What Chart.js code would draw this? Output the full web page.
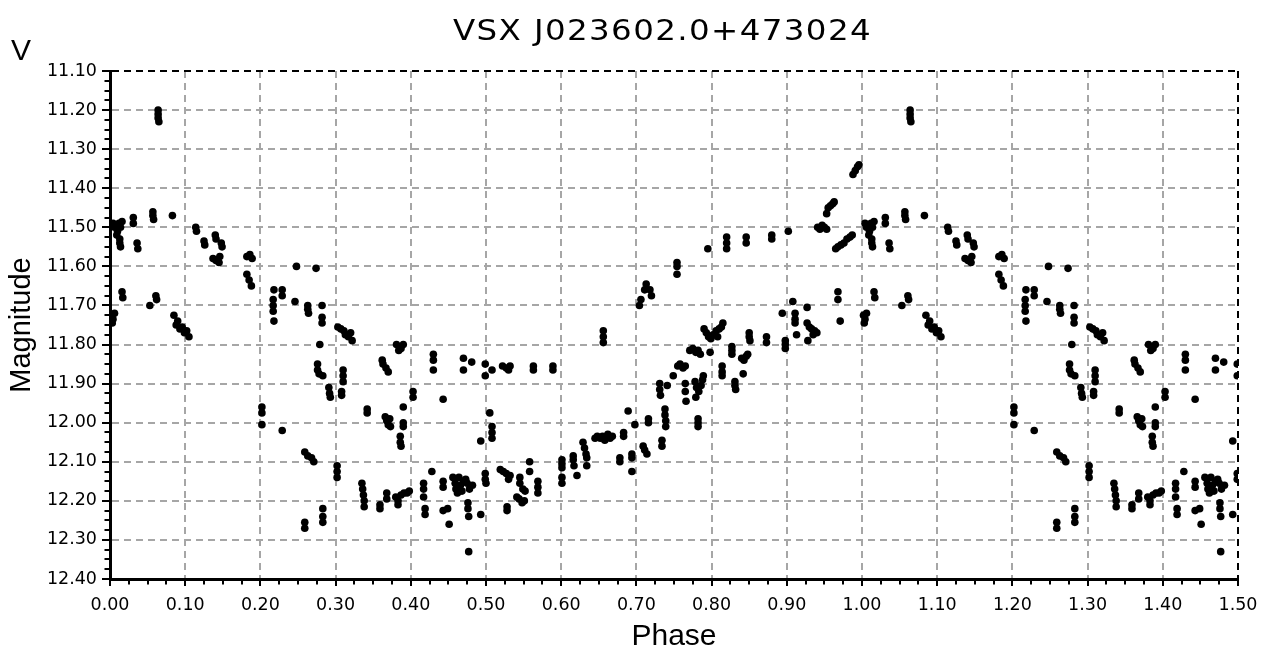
<!DOCTYPE html>
<html>
<head>
<meta charset="utf-8">
<title>VSX J023602.0+473024</title>
<script src="https://cdn.jsdelivr.net/npm/chart.js@4.4.1/dist/chart.umd.min.js"></script>
<style>
  html, body { margin: 0; padding: 0; background: #fff; }
</style>
</head>
<body>
<canvas id="lc" width="1268" height="655"></canvas>
<script>
// V-band phase plot, one row per 0.1 of phase
const PHASE = [
  0.002,0.004,0.006,0.003, 0.004,0.006,0.008,0.010,0.012,0.014,0.016,0.009,0.013, 0.013,0.014, 0.016,0.017, 0.031,0.031, 0.036,0.037, 0.053, 0.057,0.057,0.058, 0.061,0.062, 0.064,0.064,0.064,0.065, 0.083, 0.085,0.088,0.090,0.093,0.096,0.099,
  0.102,0.105, 0.114,0.115, 0.125,0.126, 0.140,0.141, 0.148,0.149, 0.137,0.141,0.145,0.146, 0.182,0.186,0.189, 0.182,0.185,0.188,
  0.202,0.202,0.202, 0.218,0.229,0.229, 0.217,0.217,0.217, 0.218, 0.229, 0.248, 0.274, 0.246, 0.263,0.263,0.264, 0.282, 0.282,0.282, 0.279, 0.276,0.276,0.278, 0.283, 0.291,0.292,0.293, 0.259,0.263,0.268,0.271, 0.259,0.259, 0.283,0.283,0.283,
  0.303,0.307,0.311,0.313,0.317,0.320,0.322, 0.310,0.310,0.310, 0.308,0.308, 0.302,0.302,0.302, 0.342,0.342, 0.335,0.336,0.337,0.338,0.338, 0.359,0.359, 0.368,0.368, 0.362,0.363,0.367,0.370, 0.381,0.384,0.387,0.390, 0.366,0.368,0.372,0.373,0.370, 0.390, 0.390,0.390, 0.386,0.386,0.387, 0.380,0.383,0.387,0.391,0.395,0.398,0.383,
  0.403,0.403, 0.430,0.430,0.430, 0.443, 0.417,0.417,0.417, 0.419,0.419, 0.428, 0.443,0.443, 0.443,0.449, 0.451, 0.456,0.459,0.460,0.464,0.466,0.470,0.473,0.475,0.478,0.482,0.468,0.462, 0.476,0.476,0.477, 0.477, 0.470,0.470, 0.481, 0.499,0.499, 0.493, 0.499,0.499,0.500, 0.493,
  0.508, 0.522,0.527,0.530,0.532, 0.563,0.563, 0.589,0.589, 0.505, 0.508,0.508,0.508, 0.519,0.523,0.527,0.530,0.532, 0.528,0.528, 0.545,0.545, 0.541,0.544,0.548,0.551, 0.549,0.552, 0.558,0.558, 0.569,0.569,0.569,
  0.601,0.601,0.601, 0.601,0.601, 0.616,0.616,0.617, 0.621, 0.629,0.631,0.633,0.634, 0.634, 0.645,0.648,0.652,0.655,0.658,0.662,0.665,0.668, 0.656,0.656,0.656, 0.678,0.678, 0.683,0.683, 0.689, 0.694,0.694, 0.694, 0.698,
  0.704,0.706,0.711,0.713,0.718,0.720, 0.709,0.711,0.714, 0.716,0.716, 0.731,0.731,0.732, 0.734,0.734, 0.741, 0.738,0.738,0.739,0.739, 0.749, 0.755, 0.754,0.754,0.754, 0.758,0.762,0.765, 0.765,0.765,0.766, 0.771,0.775,0.779,0.782,0.785, 0.778,0.780,0.783,0.786,0.788,0.789,0.779, 0.782,0.782,0.782, 0.790,0.793,0.796,0.799, 0.798, 0.795,
  0.802,0.806,0.810,0.813,0.815,0.808, 0.814,0.814,0.814, 0.820,0.820,0.820, 0.827,0.827,0.827, 0.831,0.831,0.832, 0.840,0.843,0.846,0.848, 0.842, 0.846,0.846, 0.850,0.850,0.851, 0.873,0.873, 0.880,0.880, 0.898,0.898,0.898, 0.894,
  0.902, 0.908, 0.911,0.911,0.911, 0.913, 0.927, 0.927,0.930,0.933,0.937,0.940,0.935, 0.928, 0.941,0.944,0.947,0.950,0.953, 0.953,0.955,0.958,0.961,0.963, 0.968,0.968, 0.971, 0.965,0.968,0.972,0.976,0.980,0.984,0.987, 0.988,0.991,0.994,0.996
];

const MAG = [
  11.725,11.735,11.72,11.745, 11.49,11.50,11.495,11.51,11.49,11.50,11.485,11.52,11.53, 11.54,11.55, 11.665,11.68, 11.475,11.49, 11.54,11.555, 11.70, 11.46,11.47,11.48, 11.675,11.685, 11.20,11.21,11.22,11.23, 11.47, 11.725,11.75,11.74,11.76,11.755,11.77,
  11.765,11.78, 11.50,11.51, 11.535,11.545, 11.52,11.53, 11.54,11.55, 11.58,11.585,11.59,11.575, 11.575,11.57,11.58, 11.62,11.635,11.65,
  11.96,11.975,12.005, 11.66,11.66,11.675, 11.685,11.70,11.715, 11.74, 12.02, 11.60, 11.605, 11.69, 11.70,11.71,11.72, 11.70, 11.73,11.745, 11.80, 11.85,11.865,11.875, 11.88, 11.91,11.925,11.935, 12.075,12.085,12.09,12.10, 12.255,12.27, 12.22,12.24,12.255,
  11.755,11.76,11.765,11.775,11.78,11.77,11.79, 11.865,11.88,11.895, 11.92,11.93, 12.11,12.125,12.14, 11.965,11.975, 12.155,12.17,12.185,12.20,12.215, 12.21,12.22, 12.18,12.195, 11.84,11.85,11.86,11.87, 11.80,11.815,11.81,11.80, 11.985,11.995,11.99,12.01,12.005, 11.96, 12.00,12.01, 12.035,12.05,12.06, 12.19,12.20,12.185,12.18,12.18,12.175,12.21,
  11.92,11.935, 11.825,11.84,11.865, 11.94, 12.155,12.17,12.19, 12.22,12.235, 12.125, 12.15,12.165, 12.225,12.22, 12.26, 12.14,12.155,12.17,12.14,12.16,12.15,12.145,12.155,12.17,12.16,12.175,12.18, 12.205,12.22,12.24, 12.33, 11.835,11.865, 11.845, 11.85,11.88, 12.047, 12.13,12.145,12.155, 12.235,
  11.865, 11.855,11.86,11.865,11.855, 11.855,11.865, 11.855,11.865, 11.975, 12.01,12.025,12.04, 12.12,12.125,12.13,12.145,12.135, 12.215,12.225, 12.14,12.155, 12.19,12.195,12.205,12.20, 12.17,12.175, 12.10,12.125, 12.15,12.165,12.18,
  12.095,12.105,12.115, 12.14,12.155, 12.085,12.095,12.11, 12.135, 12.05,12.065,12.08,12.09, 12.11, 12.04,12.035,12.04,12.035,12.045,12.03,12.04,12.035, 11.765,11.78,11.795, 12.09,12.10, 12.025,12.035, 11.97, 12.08,12.09, 12.125, 12.005,
  11.70,11.685,11.66,11.645,11.66,11.675, 12.06,12.07,12.08, 11.99,12.00, 11.90,11.915,11.93, 12.045,12.06, 11.905, 11.965,11.98,11.995,12.01, 11.88, 11.855, 11.59,11.60,11.62, 11.85,11.86,11.855, 11.90,11.92,11.945, 11.815,11.81,11.82,11.815,11.825, 11.895,11.91,11.92,11.905,11.89,11.88,11.935, 11.99,12.00,12.01, 11.76,11.77,11.78,11.785, 11.82, 11.555,
  11.775,11.765,11.76,11.755,11.745,11.78, 11.855,11.87,11.88, 11.525,11.54,11.555, 11.805,11.815,11.825, 11.895,11.905,11.915, 11.835,11.84,11.83,11.825, 11.875, 11.525,11.54, 11.77,11.78,11.79, 11.78,11.795, 11.52,11.53, 11.79,11.80,11.81, 11.72,
  11.51, 11.69, 11.72,11.735,11.745, 11.775, 11.705, 11.745,11.755,11.76,11.765,11.77,11.775, 11.79, 11.50,11.505,11.495,11.50,11.505, 11.465,11.45,11.445,11.44,11.435, 11.665,11.685, 11.74, 11.555,11.55,11.545,11.54,11.53,11.525,11.52, 11.365,11.355,11.345,11.34
];

const STAR = 'VSX J023602.0+473024';
const PHASE_RANGE = [0, 1.5];
const MAG_RANGE = [11.1, 12.4];

const isMajor = v => Math.abs(v * 10 - Math.round(v * 10)) < 1e-6;
const GRID = '#a6a6a6';

const points = PHASE.map((p, i) => ({ x: p, y: MAG[i] }));
// plot 1.5 cycles: first half of the cycle again at phase + 1
const secondCycle = points.filter(p => p.x < 0.5).map(p => ({ x: p.x + 1, y: p.y }));

const headings = {
  id: 'headings',
  afterDraw(chart) {
    const ctx = chart.ctx;
    ctx.save();
    ctx.fillStyle = '#000';
    ctx.textBaseline = 'alphabetic';
    ctx.textAlign = 'left';
    ctx.font = '30px "Liberation Sans", Arial, sans-serif';
    ctx.fillText('V', 11, 60);
    // wide, slightly stretched star name
    ctx.font = '28px "DejaVu Sans", sans-serif';
    ctx.letterSpacing = '1.2px';
    ctx.translate(453, 40);
    ctx.scale(1.16, 1);
    ctx.fillText(STAR, 0, 0);
    ctx.restore();
  }
};

const tickFont = { family: '"DejaVu Sans", sans-serif', size: 17.5 };
const titleFont = (size) => ({ family: '"Liberation Sans", Arial, sans-serif', size });

new Chart(document.getElementById('lc'), {
  type: 'scatter',
  data: {
    datasets: [{
      label: 'V',
      data: points.concat(secondCycle),
      backgroundColor: '#000',
      borderWidth: 0,
      pointRadius: 3.8,
      pointHoverRadius: 3.8
    }]
  },
  options: {
    responsive: false,
    animation: false,
    events: [],
    layout: { padding: { top: 71, right: 30, bottom: 0, left: 0 } },
    plugins: { legend: { display: false }, tooltip: { enabled: false } },
    scales: {
      x: {
        type: 'linear',
        min: PHASE_RANGE[0], max: PHASE_RANGE[1],
        afterFit: s => { s.height = 76; },
        ticks: {
          stepSize: 0.025, autoSkip: false, maxRotation: 0, minRotation: 0,
          padding: 9, color: '#000', font: tickFont,
          callback: v => isMajor(v) ? v.toFixed(2) : ''
        },
        grid: {
          color: c => Math.abs(c.tick.value - PHASE_RANGE[1]) < 1e-6 ? '#000' : GRID,
          lineWidth: c => isMajor(c.tick.value) ? 2 : 0,
          tickLength: 7, tickColor: '#000', tickWidth: 2,
          tickBorderDash: c => isMajor(c.tick.value) ? [] : [3.5, 20]
        },
        border: { display: true, color: '#000', width: 3, dash: [7, 5] },
        title: { display: true, text: 'Phase', color: '#000', font: titleFont(30), padding: { top: 0, bottom: 0 } }
      },
      y: {
        type: 'linear',
        reverse: true,
        min: MAG_RANGE[0], max: MAG_RANGE[1],
        afterFit: s => { s.width = 110; },
        ticks: {
          stepSize: 0.025, autoSkip: false,
          padding: 5, color: '#000', font: tickFont,
          callback: v => isMajor(v) ? v.toFixed(2) : ''
        },
        grid: {
          color: c => Math.abs(c.tick.value - MAG_RANGE[0]) < 1e-6 ? '#000' : GRID,
          lineWidth: c => isMajor(c.tick.value) ? 2 : 0,
          tickLength: 8, tickColor: '#000', tickWidth: 2,
          tickBorderDash: c => isMajor(c.tick.value) ? [] : [0, 2.5, 10]
        },
        border: { display: true, color: '#000', width: 3, dash: [7, 5] },
        title: { display: true, text: 'Magnitude', color: '#000', font: titleFont(29), padding: { top: 5, bottom: 0 } }
      }
    }
  },
  plugins: [headings]
});
</script>
</body>
</html>
